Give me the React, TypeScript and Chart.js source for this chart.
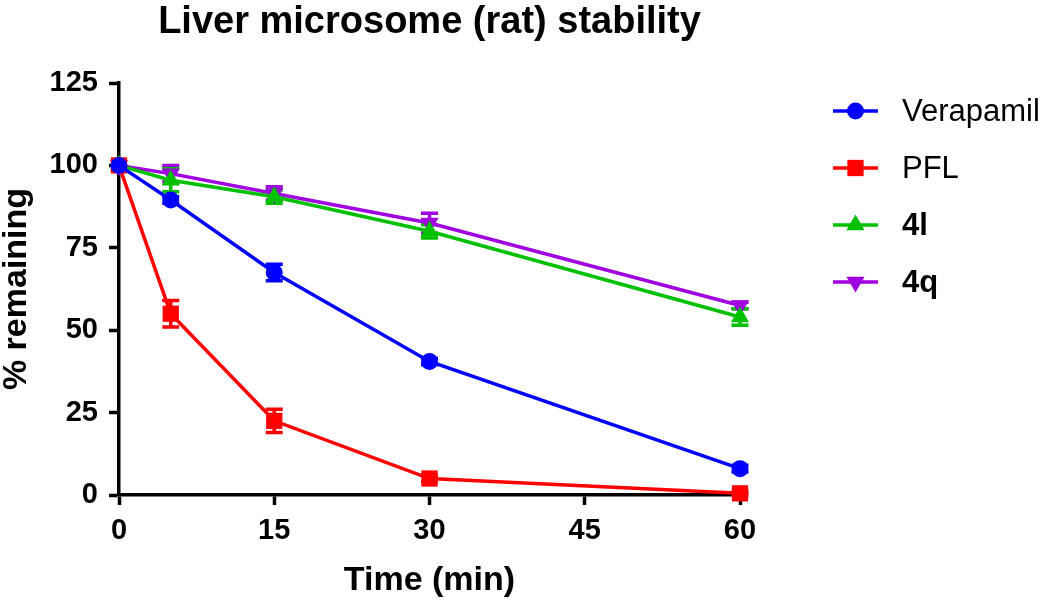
import React, { useEffect, useRef } from "react";
import { Chart, registerables } from "chart.js";

Chart.register(...registerables);

const times = [0, 5, 15, 30, 60];
const seriesNames = ["Verapamil", "PFL", "4l", "4q"];
const verapamil = [100, 89.5, 67.5, 40.5, 8];
const verapamilErr = [0, 1, 2.5, 1, 1];
const pfl = [100, 55, 22.5, 5, 0.5];
const pflErr = [0, 4, 3.5, 1, 0.5];
const cmp4l = [100, 95.5, 90.5, 80, 54];
const cmp4lErr = [0, 3.5, 2, 2, 2.5];
const cmp4q = [100, 97.5, 91.5, 82.5, 57.5];
const cmp4qErr = [0, 2.5, 2, 3, 1];
const xTicks = [0, 15, 30, 45, 60];
const yTicks = [0, 25, 50, 75, 100, 125];

const colors = ["#0000FF", "#FF0000", "#00C000", "#A000E0"];
const styles = ["circle", "rect", "triangle", "triangle"];
const rotations = [0, 0, 0, 180];
const radii = [8.5, 11.5, 10.5, 10.5];
const boldLegend = [false, false, true, true];

const FONT = "'Liberation Sans', Arial, Helvetica, sans-serif";

function drawMarker(ctx: CanvasRenderingContext2D, style: string, rot: number, r: number, x: number, y: number, color: string) {
  ctx.save();
  ctx.fillStyle = color;
  ctx.beginPath();
  if (style === "circle") {
    ctx.arc(x, y, r, 0, Math.PI * 2);
  } else if (style === "rect") {
    const s = Math.SQRT1_2 * r;
    ctx.rect(x - s, y - s, 2 * s, 2 * s);
  } else {
    let rad = (rot * Math.PI) / 180;
    ctx.moveTo(x + Math.sin(rad) * r, y - Math.cos(rad) * r);
    rad += (2 * Math.PI) / 3;
    ctx.lineTo(x + Math.sin(rad) * r, y - Math.cos(rad) * r);
    rad += (2 * Math.PI) / 3;
    ctx.lineTo(x + Math.sin(rad) * r, y - Math.cos(rad) * r);
    ctx.closePath();
  }
  ctx.fill();
  ctx.restore();
}

export default function App() {
  const ref = useRef<HTMLCanvasElement>(null);
  useEffect(() => {
    const values = [verapamil, pfl, cmp4l, cmp4q];
    const errors = [verapamilErr, pflErr, cmp4lErr, cmp4qErr];

    const errorBars = {
      id: "errorBars",
      beforeDatasetsDraw(chart: any) {
        const ctx = chart.ctx as CanvasRenderingContext2D;
        const ys = chart.scales.y;
        for (let i = values.length - 1; i >= 0; i--) {
          const meta = chart.getDatasetMeta(i);
          ctx.save();
          ctx.strokeStyle = colors[i];
          ctx.lineWidth = 3.5;
          meta.data.forEach((pt: any, j: number) => {
            const e = errors[i][j];
            if (!e) return;
            const x = pt.x;
            const yt = ys.getPixelForValue(values[i][j] + e);
            const yb = ys.getPixelForValue(values[i][j] - e);
            ctx.beginPath();
            ctx.moveTo(x, yt);
            ctx.lineTo(x, yb);
            ctx.moveTo(x - 8.5, yt);
            ctx.lineTo(x + 8.5, yt);
            ctx.moveTo(x - 8.5, yb);
            ctx.lineTo(x + 8.5, yb);
            ctx.stroke();
          });
          ctx.restore();
        }
      },
    };

    const legendPlugin = {
      id: "customLegend",
      afterDraw(chart: any) {
        const ctx = chart.ctx as CanvasRenderingContext2D;
        const ca = chart.chartArea;
        seriesNames.forEach((name, i) => {
          const y = ca.top + 28 + i * 57;
          const x0 = ca.right + 93;
          const x1 = ca.right + 138;
          ctx.save();
          ctx.strokeStyle = colors[i];
          ctx.lineWidth = 3.5;
          ctx.beginPath();
          ctx.moveTo(x0, y);
          ctx.lineTo(x1, y);
          ctx.stroke();
          ctx.restore();
          drawMarker(ctx, styles[i], rotations[i], radii[i], (x0 + x1) / 2, y, colors[i]);
          ctx.save();
          ctx.fillStyle = "#000";
          ctx.textBaseline = "middle";
          ctx.textAlign = "left";
          ctx.font = `${boldLegend[i] ? "bold " : ""}31px ${FONT}`;
          ctx.fillText(name, ca.right + 162, y + 1);
          ctx.restore();
        });
      },
    };

    const chart = new Chart(ref.current as HTMLCanvasElement, {
      type: "line",
      data: {
        datasets: seriesNames.map((name, i) => ({
          label: name,
          data: times.map((t, j) => ({ x: t, y: values[i][j] })),
          borderColor: colors[i],
          backgroundColor: colors[i],
          borderWidth: 3.5,
          pointStyle: styles[i] as any,
          pointRotation: rotations[i],
          pointRadius: radii[i],
          pointBorderWidth: 0,
          pointBackgroundColor: colors[i],
          tension: 0,
          clip: false as any,
        })),
      },
      plugins: [errorBars, legendPlugin],
      options: {
        animation: false,
        responsive: false,
        devicePixelRatio: 1,
        layout: { padding: { left: 0, right: 310, top: 0, bottom: 0 } },
        plugins: {
          legend: { display: false },
          tooltip: { enabled: false },
          title: {
            display: true,
            text: "Liver microsome (rat) stability",
            color: "#000",
            fullSize: false,
            font: { family: FONT, size: 38, weight: "bold", lineHeight: 1.2 },
            padding: { top: 0, bottom: 37.4 },
          },
        },
        scales: {
          x: {
            type: "linear",
            min: 0,
            max: 60,
            afterBuildTicks(scale: any) {
              scale.ticks = xTicks.map((v) => ({ value: v }));
            },
            afterFit(scale: any) {
              scale.height = 111;
            },
            border: { display: true, color: "#000", width: 3.5 },
            grid: {
              display: true,
              drawOnChartArea: false,
              drawTicks: true,
              tickLength: 10,
              tickWidth: 3.5,
              tickColor: "#000",
            },
            ticks: {
              color: "#000",
              padding: 9,
              maxRotation: 0,
              font: { family: FONT, size: 29, weight: "bold" },
            },
            title: {
              display: true,
              text: "Time (min)",
              color: "#000",
              font: { family: FONT, size: 34, weight: "bold", lineHeight: 1.2 },
              padding: { top: 0, bottom: 5 },
            },
          },
          y: {
            type: "linear",
            min: 0,
            max: 125,
            afterBuildTicks(scale: any) {
              scale.ticks = yTicks.map((v) => ({ value: v }));
            },
            afterFit(scale: any) {
              scale.width = 119;
            },
            border: { display: true, color: "#000", width: 3.5 },
            grid: {
              display: true,
              drawOnChartArea: false,
              drawTicks: true,
              tickLength: 10,
              tickWidth: 3.5,
              tickColor: "#000",
            },
            ticks: {
              color: "#000",
              padding: 11,
              font: { family: FONT, size: 29, weight: "bold" },
            },
            title: {
              display: true,
              text: "% remaining",
              color: "#000",
              font: { family: FONT, size: 34, weight: "bold", lineHeight: 1 },
              padding: { top: 0, bottom: 0 },
            },
          },
        },
      } as any,
    });
    return () => chart.destroy();
  }, []);

  return (
    <div style={{ position: "fixed", left: 0, top: 0, width: 1050, height: 606, background: "#fff" }}>
      <canvas ref={ref} width={1050} height={606} style={{ width: 1050, height: 606, display: "block" }} />
    </div>
  );
}
